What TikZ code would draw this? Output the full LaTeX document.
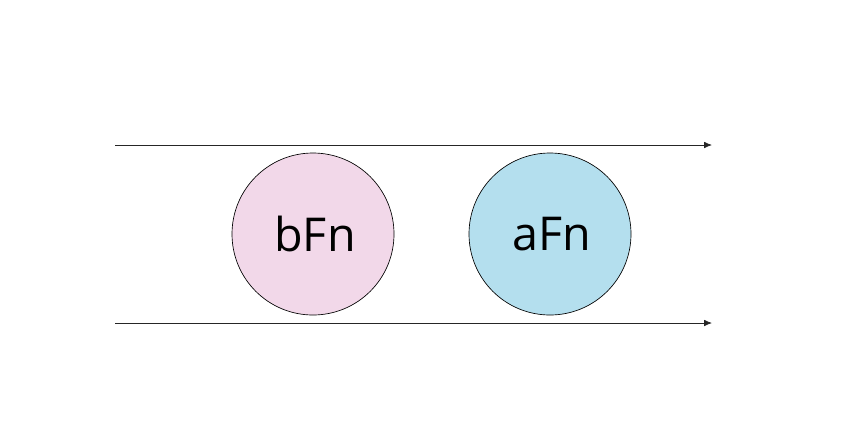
\documentclass[tikz,border=0pt]{standalone}
\usepackage{fontspec}
\setmainfont{Open Sans}
\usetikzlibrary{positioning,arrows.meta}
\definecolor{fnpink}{HTML}{F2D8E9}
\definecolor{fnblue}{HTML}{B4DFEE}
\tikzset{
    fn/.style={circle,draw=black,line width=0.5pt,minimum size=121.5pt,inner sep=0pt,font=\fontsize{35}{40}\selectfont},
    flow/.style={-{Latex[length=6pt,width=5pt]},line width=0.6pt,black!85}
}

\begin{document}
\begin{tikzpicture}[x=0.75pt,y=-0.75pt]
    \useasboundingbox (0,0) rectangle (842,436);
    \node[fn,fill=fnpink] (bFn) at (313,234) {\hspace{3pt}bFn};
    \node[fn,fill=fnblue] (aFn) at (550,234) {\hspace{3pt}aFn};

    \coordinate (topStart) at (115,145);
    \coordinate (topEnd) at (712,145);
    \coordinate (bottomStart) at (115,323);
    \coordinate (bottomEnd) at (712,323);
    \draw[flow] (topStart) -- (topEnd);
    \draw[flow] (bottomStart) -- (bottomEnd);
\end{tikzpicture}
\end{document}
